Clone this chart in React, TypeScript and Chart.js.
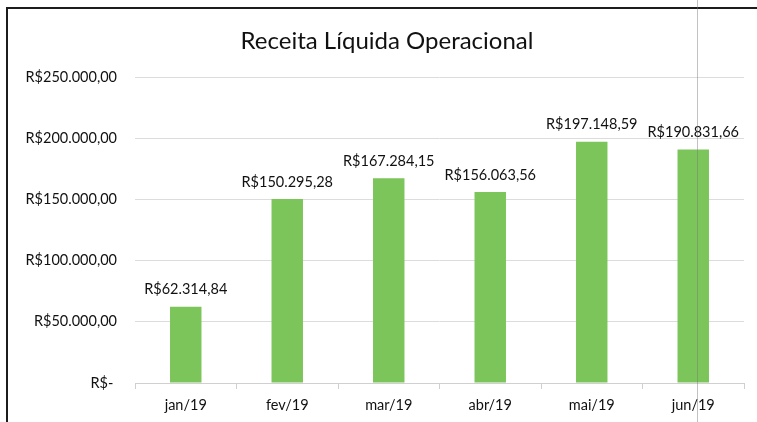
import React, { useEffect, useRef } from "react";
import { Chart, registerables } from "chart.js";

Chart.register(...registerables);

const categories = ["jan/19", "fev/19", "mar/19", "abr/19", "mai/19", "jun/19"];
const revenue = [62314.84, 150295.28, 167284.15, 156063.56, 197148.59, 190831.66];
const yTicks = [0, 50000, 100000, 150000, 200000, 250000];
const titleText = "Receita Líquida Operacional";

const FONT = "Lato, 'Open Sans', sans-serif";

function fmtBRL(v: number): string {
  if (v === 0) return "R$- ";
  const [i, d] = v.toFixed(2).split(".");
  const withDots = i.replace(/\B(?=(\d{3})+(?!\d))/g, ".");
  return "R$" + withDots + "," + d;
}

const dataLabels = {
  id: "dataLabels",
  afterDatasetsDraw(chart: any) {
    const ctx = chart.ctx;
    const meta = chart.getDatasetMeta(0);
    const ds = chart.data.datasets[0];
    ctx.save();
    ctx.font = "14.5px " + FONT;
    ctx.fillStyle = "#111";
    ctx.textAlign = "center";
    ctx.textBaseline = "middle";
    meta.data.forEach((bar: any, i: number) => {
      ctx.fillText(fmtBRL(ds.data[i]), bar.x, bar.y - 17);
    });
    ctx.restore();
  },
};

const titlePlugin = {
  id: "customTitle",
  afterDraw(chart: any) {
    const ctx = chart.ctx;
    ctx.save();
    ctx.font = "24px " + FONT;
    ctx.fillStyle = "#111";
    ctx.textAlign = "center";
    ctx.textBaseline = "middle";
    ctx.fillText(titleText, 387, 41);
    ctx.restore();
  },
};

export default function App() {
  const ref = useRef<HTMLCanvasElement>(null);
  useEffect(() => {
    document.body.style.margin = "0";
    const chart = new Chart(ref.current!, {
      type: "bar",
      data: {
        labels: categories,
        datasets: [
          {
            data: revenue,
            backgroundColor: "#7cc55a",
            barPercentage: 0.62,
            categoryPercentage: 0.5,
          },
        ],
      },
      options: {
        responsive: false,
        animation: false,
        devicePixelRatio: 1,
        layout: { padding: { left: 0, right: 13, top: 77, bottom: 0 } },
        plugins: {
          legend: { display: false },
          tooltip: { enabled: false },
          title: { display: false },
        },
        scales: {
          x: {
            grid: {
              drawOnChartArea: false,
              drawTicks: true,
              tickLength: 6,
              color: "#d0d0d0",
            },
            border: { display: true, color: "#d0d0d0" },
            ticks: {
              color: "#111",
              font: { family: FONT, size: 14.5 },
              padding: 8,
            },
            afterFit(scale: any) {
              scale.height = 39;
            },
          },
          y: {
            min: 0,
            max: 250000,
            afterBuildTicks(scale: any) {
              scale.ticks = yTicks.map((v) => ({ value: v }));
            },
            grid: { color: "#dcdcdc", drawTicks: false },
            border: { display: false },
            ticks: {
              color: "#111",
              font: { family: FONT, size: 14.5 },
              padding: 18,
              callback: (v: any) => fmtBRL(Number(v)),
            },
            afterFit(scale: any) {
              scale.width = 135;
            },
          },
        },
      },
      plugins: [dataLabels, titlePlugin],
    } as any);
    return () => chart.destroy();
  }, []);

  return (
    <div
      style={{
        position: "fixed",
        left: 0,
        top: 0,
        width: 757,
        height: 422,
        overflow: "hidden",
        background: "#fff",
      }}
    >
      <canvas ref={ref} width={757} height={422} style={{ position: "absolute", left: 0, top: 0 }} />
      <div
        style={{
          position: "absolute",
          left: 6,
          top: 7,
          width: 800,
          height: 500,
          border: "2px solid #1c1c1c",
          pointerEvents: "none",
        }}
      />
      <div
        style={{
          position: "absolute",
          left: 697,
          top: 0,
          width: 1,
          height: 422,
          background: "rgba(120,120,120,0.45)",
          pointerEvents: "none",
        }}
      />
    </div>
  );
}
